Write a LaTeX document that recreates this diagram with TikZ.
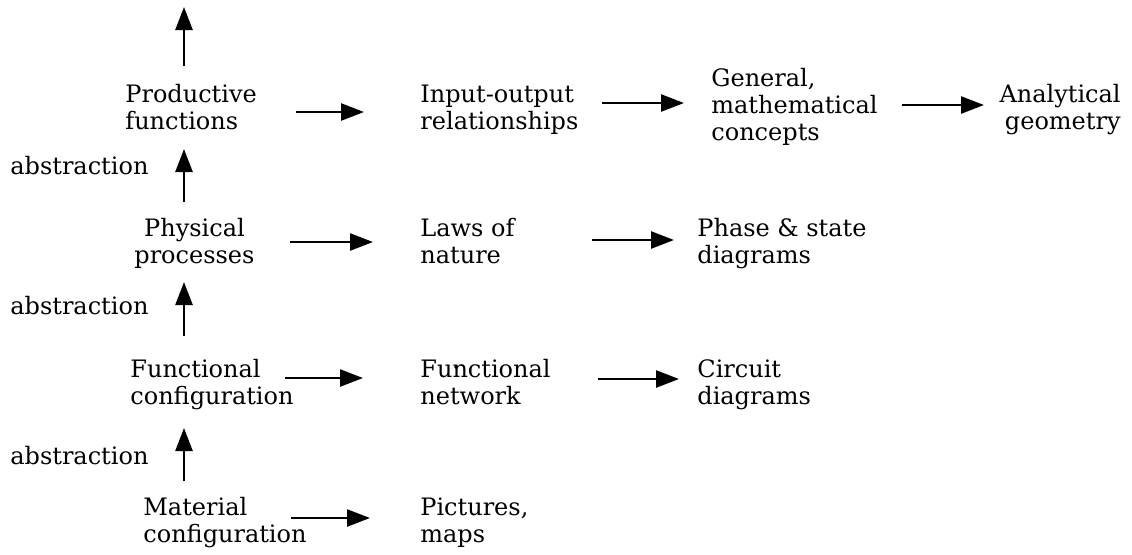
\documentclass[tikz,border=0pt]{standalone}
\usepackage{fontspec}
\setmainfont{DejaVu Serif}
\usetikzlibrary{arrows.meta}

\begin{document}
\begin{tikzpicture}[x=0.5pt,y=-0.5pt,
  concept/.style={inner sep=0pt,align=left,anchor=base west,font=\fontsize{12}{13.4}\selectfont},
  flow/.style={line width=1.25pt,-{Triangle[length=11.5pt,width=8.5pt]}}]
\useasboundingbox (0,0) rectangle (1132,554);

% column 1
\node[concept] (pf) at (125,129) {Productive\\functions};
\node[concept,align=center] (pp) at (134,263) {Physical\\processes};
\node[concept] (fc) at (130,404) {Functional\\configuration};
\node[concept] (mc) at (143,542) {Material\\configuration};

% abstraction labels
\node[concept] (ab1) at (10,174) {abstraction};
\node[concept] (ab2) at (10,314) {abstraction};
\node[concept] (ab3) at (10,464) {abstraction};

% column 2
\node[concept] (io) at (420,129) {Input-output\\relationships};
\node[concept] (ln) at (420,263) {Laws of\\nature};
\node[concept] (fn) at (420,404) {Functional\\network};
\node[concept] (pm) at (420,542) {Pictures,\\maps};

% column 3
\node[concept] (gm) at (711,140) {General,\\mathematical\\concepts};
\node[concept] (ps) at (697,263) {Phase \& state\\diagrams};
\node[concept] (cd) at (697,404) {Circuit\\diagrams};

% column 4
\node[concept,align=right,anchor=base east] (ag) at (1121,129) {Analytical\\geometry};

% arrow ends
\coordinate (up0s) at (184,66);   \coordinate (up0e) at (184,7);
\coordinate (up1s) at (184,202);  \coordinate (up1e) at (184,149);
\coordinate (up2s) at (184,336);  \coordinate (up2e) at (184,282);
\coordinate (up3s) at (184,481);  \coordinate (up3e) at (184,428);
\coordinate (r1as) at (296,112);  \coordinate (r1ae) at (364,112);
\coordinate (r1bs) at (602,103);  \coordinate (r1be) at (684,103);
\coordinate (r1cs) at (902,105);  \coordinate (r1ce) at (984,105);
\coordinate (r2as) at (290,242);  \coordinate (r2ae) at (373,242);
\coordinate (r2bs) at (592,240);  \coordinate (r2be) at (674,240);
\coordinate (r3as) at (285,378);  \coordinate (r3ae) at (363,378);
\coordinate (r3bs) at (598,379);  \coordinate (r3be) at (679,379);
\coordinate (r4as) at (291,518);  \coordinate (r4ae) at (370,518);

\foreach \a in {up0,up1,up2,up3,r1a,r1b,r1c,r2a,r2b,r3a,r3b,r4a}
  \draw[flow] (\a s) -- (\a e);

\fill (456,367) circle (1.8);
\end{tikzpicture}
\end{document}
